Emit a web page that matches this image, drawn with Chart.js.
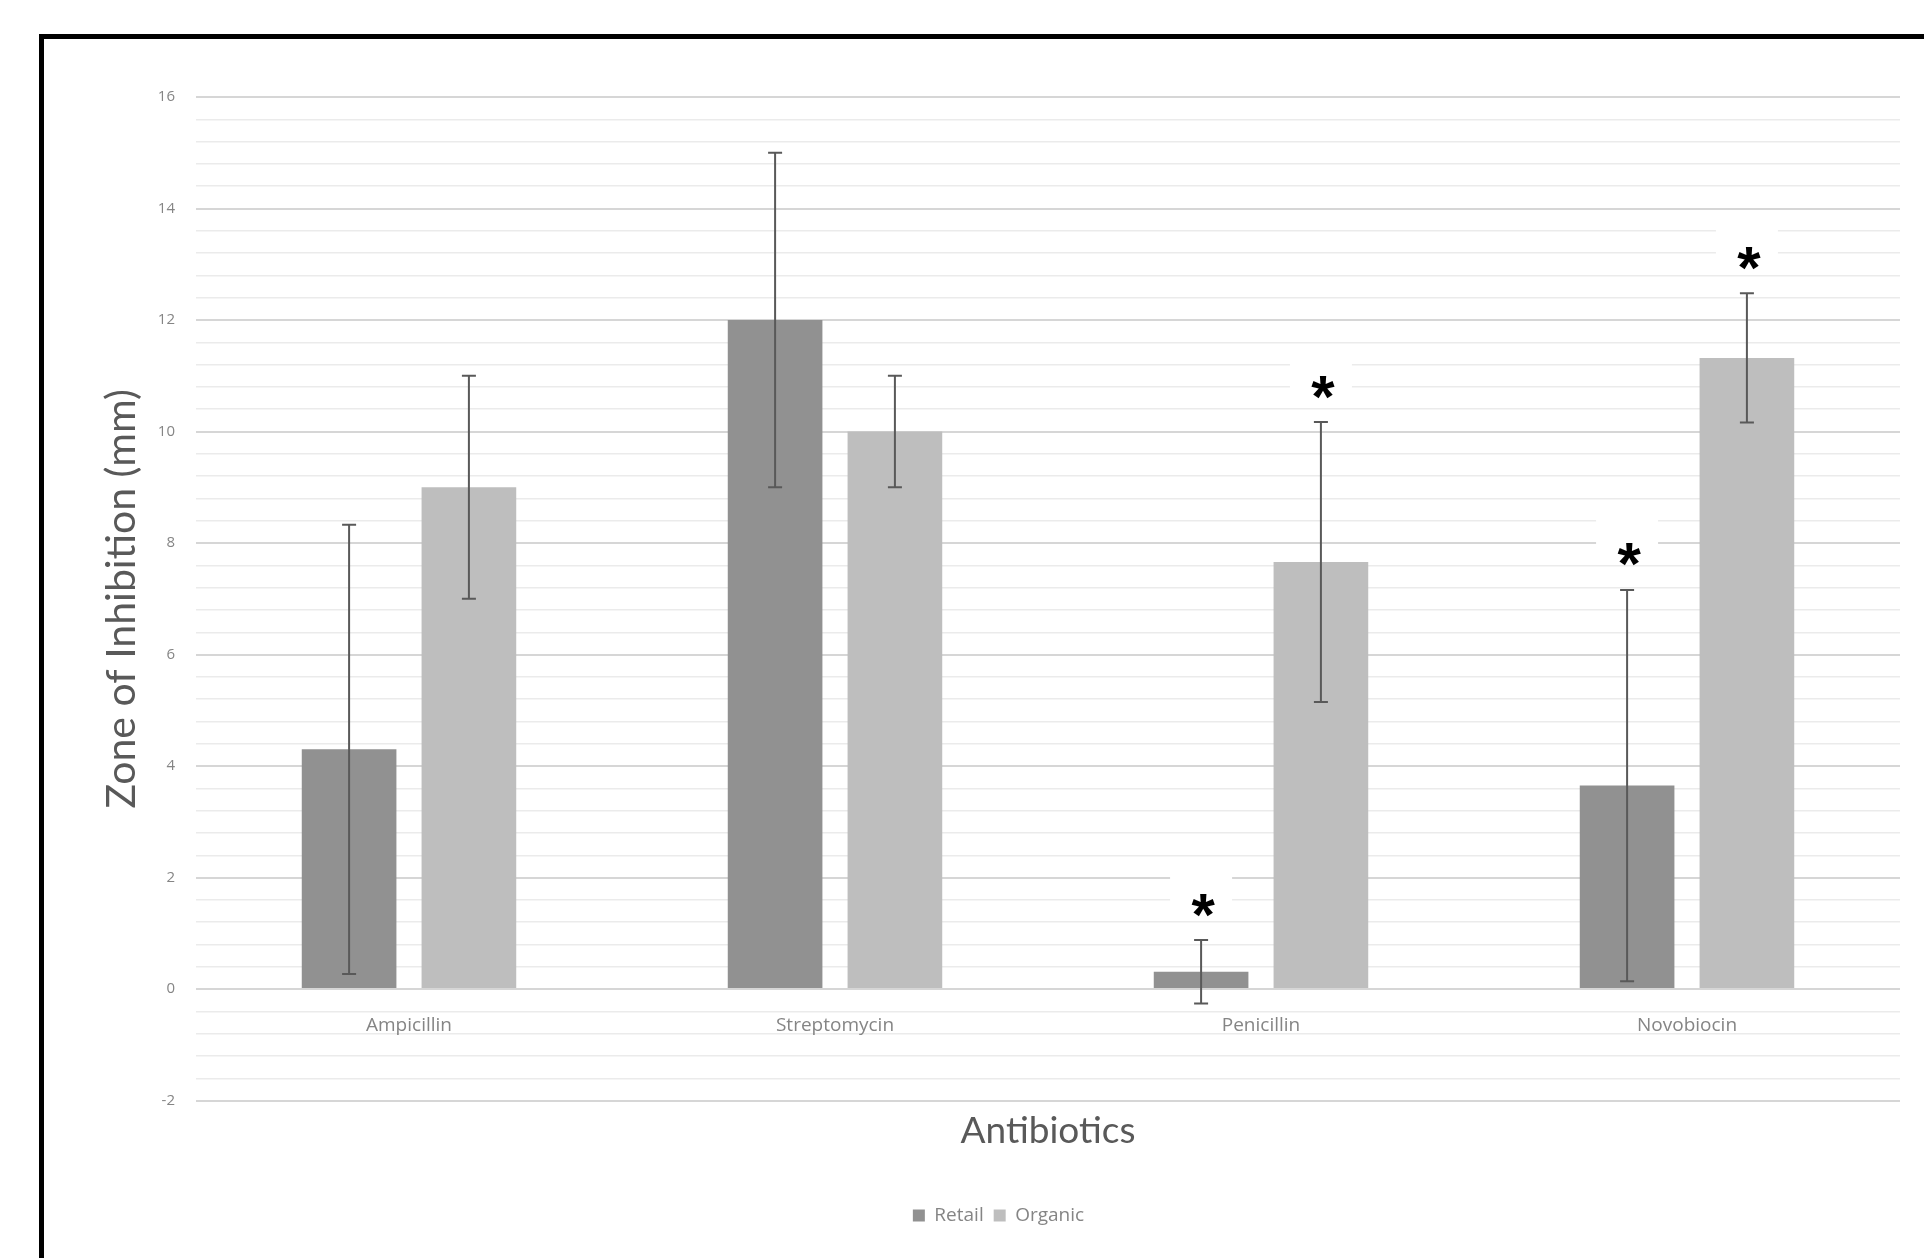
<!DOCTYPE html>
<html>
<head>
<meta charset="utf-8">
<script src="https://cdn.jsdelivr.net/npm/chart.js@4.4.1/dist/chart.umd.min.js"></script>
<style>
  html, body { margin: 0; padding: 0; background: #fff; overflow: hidden; }
  #wrap { position: relative; width: 1924px; height: 1258px; }
  #frame {
    position: absolute; left: 39px; top: 34px; width: 2000px; height: 1400px;
    border-left: 5px solid #000; border-top: 5px solid #000;
    pointer-events: none;
  }
  canvas { position: absolute; left: 0; top: 0; }
</style>
</head>
<body>
<div id="wrap">
  <canvas id="myChart" width="1924" height="1258"></canvas>
  <div id="frame"></div>
</div>
<script>
// data
const categories = ['Ampicillin', 'Streptomycin', 'Penicillin', 'Novobiocin'];
const retail = [4.3, 12, 0.31, 3.65];
const retailErr = [4.03, 3, 0.57, 3.51];
const organic = [9, 10, 7.66, 11.32];
const organicErr = [2, 1, 2.51, 1.16];
const retailSig = [false, false, true, true];
const organicSig = [false, false, true, true];
const yTicks = [-2, 0, 2, 4, 6, 8, 10, 12, 14, 16];

const errors = [retailErr, organicErr];
const stars = [retailSig, organicSig];

function isMajor(v) {
  return yTicks.some(t => Math.abs(t - v) < 1e-6);
}

// error bars + significance stars
const errorBars = {
  id: 'errorBars',
  afterDatasetsDraw(chart) {
    const ctx = chart.ctx;
    const y = chart.scales.y;
    chart.data.datasets.forEach((ds, i) => {
      const meta = chart.getDatasetMeta(i);
      meta.data.forEach((bar, j) => {
        const v = ds.data[j], e = errors[i][j];
        const top = y.getPixelForValue(v + e);
        const bot = y.getPixelForValue(v - e);
        ctx.save();
        ctx.strokeStyle = '#595959';
        ctx.lineWidth = 2;
        ctx.beginPath();
        ctx.moveTo(bar.x, top); ctx.lineTo(bar.x, bot);
        ctx.moveTo(bar.x - 7, top); ctx.lineTo(bar.x + 7, top);
        ctx.moveTo(bar.x - 7, bot); ctx.lineTo(bar.x + 7, bot);
        ctx.stroke();
        if (stars[i][j]) {
          const sy = top - 31;
          ctx.fillStyle = '#fff';
          ctx.fillRect(bar.x - 31, sy - 42, 62, 48);
          ctx.fillStyle = '#000';
          ctx.font = 'bold 60px "Liberation Sans"';
          ctx.textAlign = 'center';
          ctx.textBaseline = 'middle';
          ctx.fillText('*', bar.x + 2, sy + 9);
        }
        ctx.restore();
      });
    });
  }
};

const ctx = document.getElementById('myChart').getContext('2d');

new Chart(ctx, {
  type: 'bar',
  data: {
    labels: categories,
    datasets: [{
      label: 'Retail',
      data: retail,
      backgroundColor: '#919191',
      categoryPercentage: 0.5625,
      barPercentage: 0.79
    },
    {
      label: 'Organic',
      data: organic,
      backgroundColor: '#bebebe',
      categoryPercentage: 0.5625,
      barPercentage: 0.79
    }]
  },
  options: {
    responsive: false,
    animation: false,
    layout: {
      padding: { left: 97, right: 24, top: 97, bottom: 23 }
    },
    scales: {
      x: {
        position: { y: 0 },
        grid: { display: false },
        border: { display: false },
        ticks: {
          color: '#858585',
          font: { family: 'Open Sans', size: 19 },
          padding: 17
        }
      },
      y: {
        min: -2,
        max: 16,
        afterFit(scale) { scale.width = 99; },
        border: { display: false },
        grid: {
          drawTicks: false,
          color: c => isMajor(c.tick.value) ? '#d6d6d6' : '#ebebeb',
          lineWidth: c => isMajor(c.tick.value) ? 2 : 1.5
        },
        ticks: {
          stepSize: 0.4,
          autoSkip: false,
          padding: 21,
          color: '#858585',
          font: { family: 'Open Sans', size: 15 },
          callback: v => isMajor(v) ? Math.round(v) : ''
        },
        title: {
          display: true,
          text: 'Zone of Inhibition (mm)',
          color: '#595959',
          font: { family: 'Lato', size: 41 },
          padding: 0
        }
      }
    },
    plugins: {
      tooltip: { enabled: false },
      title: {
        display: true,
        text: 'Antibiotics',
        position: 'bottom',
        fullSize: false,
        weight: 500,
        color: '#595959',
        font: { family: 'Lato', size: 37, weight: 'normal' },
        padding: { top: 8, bottom: 43 }
      },
      legend: {
        position: 'bottom',
        labels: {
          color: '#858585',
          font: { family: 'Open Sans', size: 19 },
          boxWidth: 12,
          boxHeight: 12,
          padding: 10
        }
      }
    }
  },
  plugins: [errorBars]
});
</script>
</body>
</html>
